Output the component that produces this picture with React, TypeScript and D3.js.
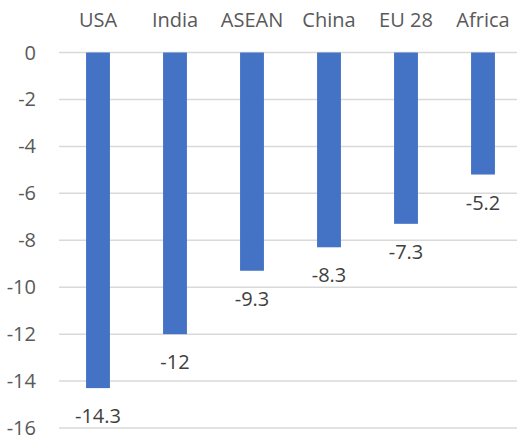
import { useEffect, useRef } from 'react';
import * as d3 from 'd3';

const regions = ['USA', 'India', 'ASEAN', 'China', 'EU 28', 'Africa'];
const changes = [-14.3, -12, -9.3, -8.3, -7.3, -5.2];
const yTicks = [0, -2, -4, -6, -8, -10, -12, -14, -16];

const W = 517;
const H = 440;

const App: React.FC = () => {
  const ref = useRef<SVGSVGElement>(null);

  useEffect(() => {
    const svg = d3.select(ref.current);
    svg.selectAll('*').remove();

    const x = d3.scaleBand<string>()
      .domain(regions)
      .range([59.5, 521.5])
      .paddingInner(0.69)
      .paddingOuter(0.345);

    const y = d3.scaleLinear()
      .domain([0, -16])
      .range([52.5, 428]);

    const font = '"Open Sans", sans-serif';
    const grey = '#595959';

    // gridlines
    svg.append('g')
      .selectAll('line')
      .data(yTicks)
      .enter()
      .append('line')
      .attr('x1', 59)
      .attr('x2', W)
      .attr('y1', d => y(d))
      .attr('y2', d => y(d))
      .attr('stroke', '#d9d9d9')
      .attr('stroke-width', 1.5);

    // y tick labels
    svg.append('g')
      .selectAll('text')
      .data(yTicks)
      .enter()
      .append('text')
      .attr('x', 36)
      .attr('y', d => y(d))
      .attr('dy', '0.35em')
      .attr('text-anchor', 'end')
      .style('font-family', font)
      .style('font-size', '20px')
      .attr('fill', grey)
      .text(d => d3.format('d')(d).replace('−', '-'));

    // category labels on top
    svg.append('g')
      .selectAll('text')
      .data(regions)
      .enter()
      .append('text')
      .attr('x', d => x(d)! + x.bandwidth() / 2)
      .attr('y', 27)
      .attr('text-anchor', 'middle')
      .style('font-family', font)
      .style('font-size', '20px')
      .attr('fill', grey)
      .text(d => d);

    // bars
    svg.append('g')
      .selectAll('rect')
      .data(changes)
      .enter()
      .append('rect')
      .attr('x', (_, i) => x(regions[i])!)
      .attr('y', y(0))
      .attr('width', x.bandwidth())
      .attr('height', d => y(d) - y(0))
      .attr('fill', '#4472c4');

    // value labels below bars
    svg.append('g')
      .selectAll('text')
      .data(changes)
      .enter()
      .append('text')
      .attr('x', (_, i) => x(regions[i])! + x.bandwidth() / 2)
      .attr('y', d => y(d) + 35)
      .attr('text-anchor', 'middle')
      .style('font-family', font)
      .style('font-size', '20px')
      .attr('fill', '#404040')
      .text(d => String(d));
  }, []);

  return (
    <svg
      ref={ref}
      width={W}
      height={H}
      style={{ position: 'absolute', left: 0, top: 0, background: '#fff' }}
    />
  );
};

export default App;
